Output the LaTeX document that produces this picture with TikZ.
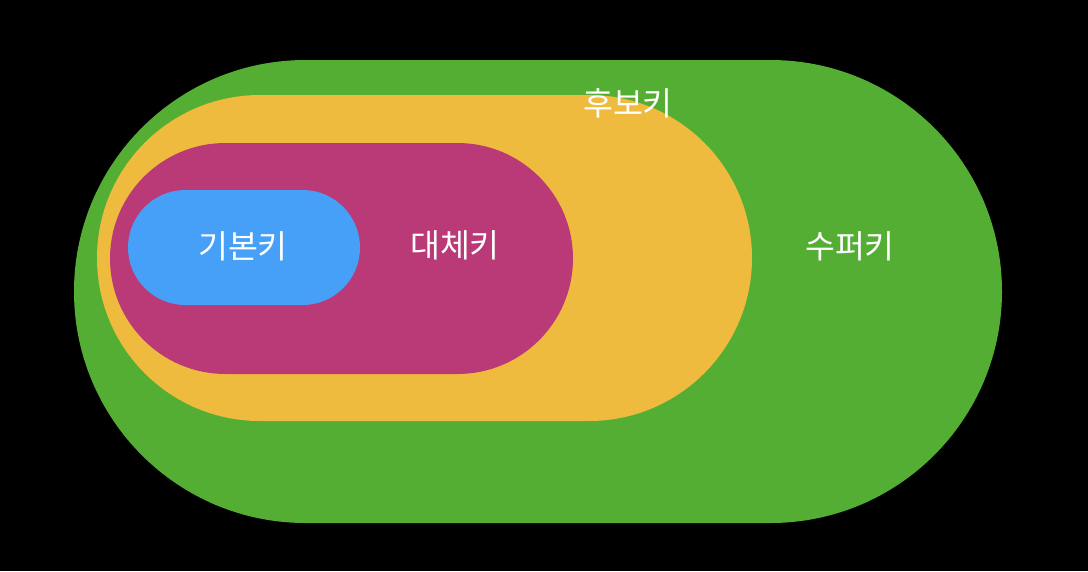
\documentclass[tikz,border=0pt]{standalone}
\usepackage{fontspec}
\newfontfamily\kr{Noto Sans CJK KR}
\definecolor{superkey}{RGB}{84,174,51}
\definecolor{candkey}{RGB}{239,187,63}
\definecolor{altkey}{RGB}{186,58,119}
\definecolor{primkey}{RGB}{71,160,248}
\begin{document}
\begin{tikzpicture}[x=1pt, y=-1pt,
	keyset/.style={draw=none, inner sep=0pt},
	keylabel/.style={text=white, inner sep=0pt, font=\kr\fontsize{32.5}{38}\selectfont}]
	\fill[black] (0,0) rectangle (1088,571);
	\useasboundingbox (0,0) rectangle (1088,571);

	\node[keyset, fill=superkey, minimum width=928pt, minimum height=463pt, rounded corners=231.5pt] at (538, 291.5) (S) {};
	\node[keyset, fill=candkey, minimum width=655pt, minimum height=326pt, rounded corners=163pt] at (424.5, 258) (C) {};
	\node[keyset, fill=altkey, minimum width=463pt, minimum height=231pt, rounded corners=115.5pt] at (341.5, 258.5) (A) {};
	\node[keyset, fill=primkey, minimum width=232pt, minimum height=115pt, rounded corners=57.5pt] at (244, 247.5) (P) {};

	\node[keylabel] at (628, 103) (SC) {후보키};
	\node[keylabel] at (850, 246) (SS) {수퍼키};
	\node[keylabel] at (455, 245) (SA) {대체키};
	\node[keylabel] at (243, 246) (SP) {기본키};
\end{tikzpicture}
\end{document}
